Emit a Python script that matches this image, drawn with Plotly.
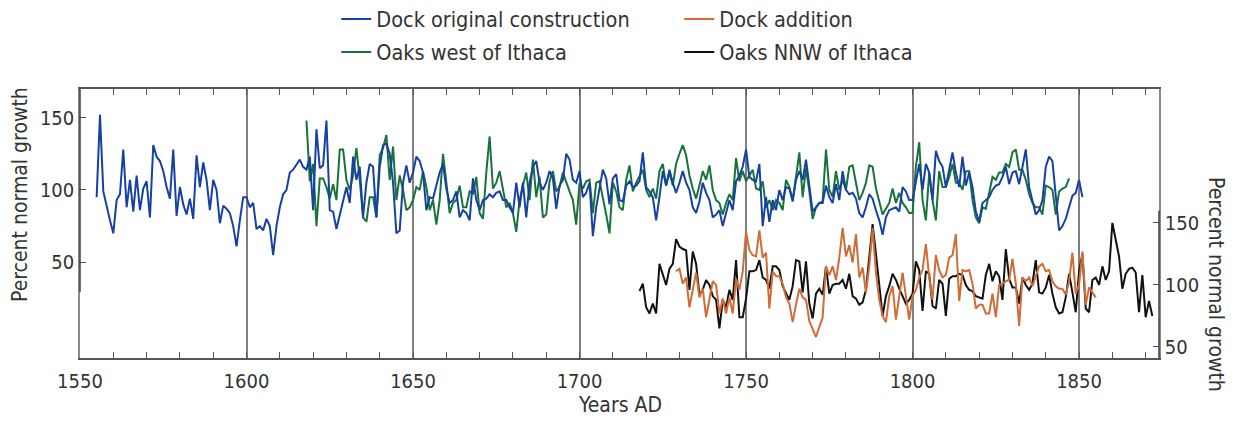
import plotly.graph_objects as go

# ---------------- data ----------------
dock_orig_start = 1555
dock_orig = [
    95, 152, 99, 88, 79,
    70, 93, 97, 128, 88, 107, 85, 110, 86, 101,
    106, 81, 131, 123, 120, 113, 102, 94, 128, 82,
    102, 90, 83, 94, 80, 124, 102, 119, 107, 86,
    107, 100, 77, 89, 87, 84, 75, 61, 79, 95,
    95, 88, 91, 73, 75, 72, 80, 75, 55, 75,
    88, 97, 100, 112, 114, 118, 121, 116, 114, 123,
    86, 142, 115, 117, 148, 86, 85, 73, 83, 93,
    102, 91, 123, 107, 116, 81, 105, 118, 116, 81,
    116, 131, 132, 125, 105, 70, 72, 105, 117, 105,
    112, 123, 120, 112, 86, 95, 94, 103, 112, 118,
    101, 91, 93, 99, 81, 86, 84, 79, 108, 93,
    86, 93, 94, 97, 95, 98, 99, 93, 93, 88,
    84, 105, 88, 105, 81, 105, 116, 120, 105, 100,
    105, 113, 108, 87, 103, 107, 125, 121, 107, 105,
    113, 95, 98, 105, 68, 88, 102, 114, 108, 90,
    108, 111, 93, 92, 103, 106, 102, 103, 106, 126,
    102, 99, 95, 79, 95, 113, 103, 114, 105, 98,
    105, 113, 105, 100, 88, 84, 92, 105, 98, 93,
    81, 83, 86, 75, 84, 93, 86, 106, 110, 116,
    128, 109, 107, 106, 118, 75, 95, 78, 93, 86,
    100, 93, 102, 101, 92, 107, 113, 107, 121, 101,
    85, 88, 91, 91, 103, 95, 91, 104, 93, 113,
    100, 97, 98, 94, 84, 81, 88, 97, 94, 86,
    79, 69, 81, 86, 87, 88, 85, 102, 99, 93,
    93, 107, 118, 100, 118, 112, 93, 127, 120, 116,
    102, 114, 126, 112, 102, 123, 103, 112, 102, 85,
    78, 91, 93, 95, 100, 103, 104, 109, 116, 104,
    112, 113, 104, 116, 128, 102, 93, 83, 86, 93,
    116, 123, 120, 95, 72, 75, 80, 88, 96, 98,
    107, 95,
]

oaks_west_start = 1618
oaks_west = [
    148, 106,
    118, 75, 108, 108, 102, 94, 104, 93, 128, 128,
    107, 100, 110, 129, 107, 81, 78, 95, 95, 81,
    124, 129, 138, 107, 130, 93, 110, 100, 86, 88,
    93, 102, 100, 113, 102, 86, 93, 76, 93, 125,
    105, 84, 91, 93, 103, 88, 88, 99, 97, 109,
    84, 80, 112, 137, 101, 105, 113, 101, 88, 91,
    84, 71, 93, 103, 112, 93, 121, 95, 109, 81,
    83, 106, 113, 99, 102, 112, 105, 99, 93, 76,
    105, 101, 106, 107, 84, 105, 106, 95, 83, 70,
    105, 99, 88, 86, 107, 117, 99, 105, 109, 114,
    100, 95, 101, 94, 113, 118, 103, 112, 103, 118,
    125, 131, 124, 110, 101, 94, 103, 113, 107, 117,
    100, 93, 91, 83, 91, 97, 93, 122, 106, 113,
    106, 110, 114, 101, 100, 106, 88, 93, 86, 93,
    91, 86, 107, 102, 93, 109, 126, 95, 115, 99,
    80, 88, 91, 92, 128, 100, 95, 113, 100, 107,
    100, 116, 117, 105, 93, 98, 105, 117, 116, 101,
    91, 83, 87, 91, 101, 91, 98, 91, 88, 84,
    84, 116, 133, 93, 79, 112, 93, 79, 113, 102,
    102, 109, 118, 105, 105, 100, 113, 113, 93, 81,
    77, 88, 87, 98, 109, 107, 112, 112, 118, 116,
    126, 128, 114, 114, 107, 97, 91, 88, 88, 83,
    103, 102, 100, 83, 99, 101, 102, 108,
]

dock_add_start = 1729
dock_add = [
    111,
    113, 101, 106, 82, 96, 110, 90, 97, 74, 88,
    103, 100, 77, 89, 77, 90, 77, 105, 96, 111,
    143, 128, 124, 123, 144, 122, 126, 81, 111, 107,
    107, 101, 90, 85, 70, 84, 97, 90, 88, 71,
    65, 58, 66, 74, 115, 108, 115, 104, 122, 146,
    123, 132, 118, 141, 106, 114, 94, 115, 146, 110,
    88, 75, 70, 91, 99, 72, 91, 110, 91, 72,
    91, 96, 106, 112, 133, 106, 88, 124, 112, 106,
    108, 122, 124, 141, 87, 112, 111, 112, 101, 81,
    84, 84, 77, 77, 93, 74, 100, 101, 103, 104,
    121, 101, 67, 106, 103, 106, 99, 108, 115, 117,
    111, 112, 103, 99, 97, 97, 92, 103, 126, 93,
    100, 127, 84, 98, 94, 90,
]

oaks_nnw_start = 1718
oaks_nnw = [
    95, 101,
    82, 77, 85, 77, 117, 108, 100, 113, 117, 137,
    131, 129, 128, 96, 127, 117, 92, 96, 104, 100,
    91, 88, 65, 88, 82, 96, 88, 120, 74, 74,
    89, 111, 111, 112, 120, 106, 104, 97, 115, 115,
    112, 99, 94, 88, 99, 120, 119, 94, 119, 85,
    73, 93, 97, 92, 115, 93, 100, 101, 101, 104,
    97, 109, 91, 89, 84, 86, 96, 125, 149, 125,
    100, 75, 91, 99, 109, 104, 97, 91, 85, 88,
    93, 119, 112, 79, 111, 109, 83, 81, 104, 101,
    75, 105, 107, 107, 109, 108, 100, 96, 95, 91,
    90, 89, 108, 117, 103, 111, 107, 88, 129, 105,
    98, 98, 85, 106, 100, 96, 101, 120, 94, 93,
    98, 108, 93, 82, 77, 78, 90, 109, 94, 78,
    111, 125, 81, 78, 104, 106, 100, 115, 104, 111,
    150, 136, 123, 97, 109, 113, 114, 110, 78, 108,
    74, 87, 75,
]

x_ticks = [1550, 1600, 1650, 1700, 1750, 1800, 1850]
y_ticks = [50, 100, 150]


def years(start, vals):
    return list(range(start, start + len(vals)))


FONT = "DejaVu Sans Condensed, DejaVu Sans, sans-serif"
TXT = "#333333"
BLUE = "#1641a3"
GREEN = "#17733a"
ORANGE = "#cf6c37"
BLACK = "#111111"

fig = go.Figure()
fig.add_trace(go.Scatter(x=years(oaks_west_start, oaks_west), y=oaks_west,
                         mode="lines", name="Oaks west of Ithaca",
                         line=dict(color=GREEN, width=2), legend="legend2"))
fig.add_trace(go.Scatter(x=years(dock_orig_start, dock_orig), y=dock_orig,
                         mode="lines", name="Dock original construction",
                         line=dict(color=BLUE, width=2), legend="legend"))
fig.add_trace(go.Scatter(x=years(oaks_nnw_start, oaks_nnw), y=oaks_nnw,
                         mode="lines", name="Oaks NNW of Ithaca", yaxis="y2",
                         line=dict(color=BLACK, width=2), legend="legend2"))
fig.add_trace(go.Scatter(x=years(dock_add_start, dock_add), y=dock_add,
                         mode="lines", name="Dock addition", yaxis="y2",
                         line=dict(color=ORANGE, width=2), legend="legend"))

leg_common = dict(orientation="h", xref="paper", x=0.2375, xanchor="left",
                  yref="container", yanchor="middle", entrywidth=298,
                  entrywidthmode="pixels", bgcolor="rgba(0,0,0,0)",
                  font=dict(family=FONT, size=21.5, color=TXT),
                  traceorder="normal")

fig.update_layout(
    width=1238, height=421,
    margin=dict(l=80, r=79, t=89, b=63),
    paper_bgcolor="white", plot_bgcolor="white",
    font=dict(family=FONT, size=20, color=TXT),
    showlegend=True,
    legend=dict(leg_common, y=1 - 19 / 421),
    legend2=dict(leg_common, y=1 - 52 / 421),
    xaxis=dict(range=[1550, 1874], tickvals=x_ticks, ticks="inside", ticklen=6,
               tickcolor="#555", tickwidth=1.2,
               minor=dict(dtick=10, tick0=1550, ticks="inside", ticklen=6,
                          tickcolor="#555", tickwidth=1.2, showgrid=False),
               showgrid=True, gridcolor="#808080", gridwidth=1.5,
               showline=True, linecolor="#555", linewidth=1.5, mirror="ticks",
               zeroline=False, tickfont=dict(family=FONT, size=20, color=TXT),
               ticklabelstandoff=4),
    yaxis=dict(range=[-16.2, 169.8], tickvals=y_ticks, ticks="inside", ticklen=6,
               tickcolor="#555", tickwidth=1.2, showgrid=False, zeroline=False,
               showline=True, linecolor="#8a8a8a", linewidth=1.5,
               tickfont=dict(family=FONT, size=20, color=TXT)),
    yaxis2=dict(range=[41.1, 258], tickvals=y_ticks, ticks="inside", ticklen=6,
                tickcolor="#555", tickwidth=1.2, showgrid=False, zeroline=False,
                overlaying="y", side="right",
                showline=True, linecolor="#8a8a8a", linewidth=1.5,
                tickfont=dict(family=FONT, size=20, color=TXT)),
    shapes=[
        dict(type="line", xref="x", yref="paper", x0=1650, x1=1650, y0=0, y1=1,
             line=dict(color="#111", width=1.5), layer="below"),
        dict(type="line", xref="paper", yref="y", x0=0, x1=0, y0=29.5, y1=169.8,
             line=dict(color="#444", width=1.5)),
        dict(type="line", xref="paper", yref="y2", x0=1, x1=1, y0=41.1, y1=160,
             line=dict(color="#444", width=1.5)),
    ],
    annotations=[
        dict(text="Percent normal growth", xref="paper", yref="paper",
             x=(20 - 80) / 1079, y=(358 - 195) / 269, xanchor="center",
             yanchor="middle", textangle=-90, showarrow=False,
             font=dict(family=FONT, size=21, color=TXT)),
        dict(text="Percent normal growth", xref="paper", yref="paper",
             x=(1216 - 80) / 1079, y=(358 - 284) / 269, xanchor="center",
             yanchor="middle", textangle=90, showarrow=False,
             font=dict(family=FONT, size=21, color=TXT)),
        dict(text="Years AD", xref="paper", yref="paper",
             x=0.5, y=-(405 - 358) / 269, xanchor="center",
             yanchor="middle", showarrow=False,
             font=dict(family=FONT, size=21, color=TXT)),
    ],
)

fig.write_html("out.html",
               config={"displayModeBar": False},
               post_script="document.body.style.margin='0';"
                           "document.body.style.overflow='hidden';")
